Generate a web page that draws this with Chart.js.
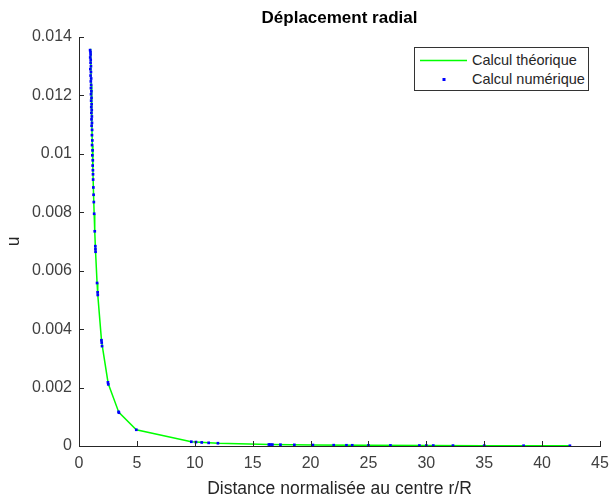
<!DOCTYPE html>
<html>
<head>
<meta charset="utf-8">
<script src="https://cdn.jsdelivr.net/npm/chart.js@4/dist/chart.umd.min.js"></script>
<style>
  html, body { margin: 0; padding: 0; background: #ffffff; }
  #wrap { position: relative; width: 611px; height: 500px; }
  #legend {
    position: absolute; left: 414px; top: 47px; width: 173px; height: 42px;
    border: 1px solid #333333; background: #ffffff;
    font-family: "Liberation Sans", Arial, sans-serif; font-size: 14.5px; color: #262626;
  }
  .row { position: absolute; left: 0; width: 172px; height: 18px; line-height: 18px; }
  .txt { position: absolute; left: 57px; top: 0; white-space: nowrap; }
</style>
</head>
<body>
<div id="wrap">
  <canvas id="c" width="611" height="500"></canvas>
  <div id="legend">
    <div class="row" style="top:3px;">
      <svg style="position:absolute; left:0; top:0;" width="56" height="18">
        <line x1="5" y1="9.5" x2="52" y2="9.5" stroke="#00ff00" stroke-width="1.5"/>
      </svg>
      <span class="txt">Calcul théorique</span>
    </div>
    <div class="row" style="top:22px;">
      <svg style="position:absolute; left:0; top:0;" width="56" height="18">
        <rect x="27.5" y="8" width="3" height="3" fill="#0000ff"/>
      </svg>
      <span class="txt">Calcul numérique</span>
    </div>
  </div>
</div>
<script>
// ---- data ----
const chartTitle = "Déplacement radial";
const xLabel = "Distance normalisée au centre r/R";
const yLabel = "u";
const xTicks = [0, 5, 10, 15, 20, 25, 30, 35, 40, 45];
const yTicks = [0, 0.002, 0.004, 0.006, 0.008, 0.010, 0.012, 0.014];

// theoretical curve (green line)
const rTheo = [1.00, 1.05, 1.10, 1.15, 1.20, 1.25, 1.31, 1.36, 1.42, 1.56, 1.62, 1.95, 2.52, 3.44, 4.95, 9.7, 12.0, 16.5, 20.2, 25.0, 30.0, 35.0, 42.4];
const uTheo = [0.01360, 0.01234, 0.01124, 0.01028, 0.00944, 0.00870, 0.00793, 0.00735, 0.00674, 0.00559, 0.00518, 0.00358, 0.00214, 0.00115, 0.000555, 0.000145, 0.0000944, 0.0000500, 0.0000333, 0.0000218, 0.0000151, 0.0000111, 0.0000076];

// numerical results (blue dots)
const rNum = [0.96, 0.99, 1.00, 0.97, 1.01, 1.00, 1.03, 0.98, 1.03, 1.00, 1.05, 1.02, 1.05, 1.03, 1.07, 1.04, 1.08, 1.05, 1.09, 1.06, 1.10, 1.07, 1.11, 1.08, 1.12, 1.09, 1.13, 1.12, 1.15, 1.13, 1.17, 1.15, 1.19, 1.18, 1.20, 1.21, 1.22, 1.24, 1.26, 1.28, 1.31, 1.36, 1.41, 1.42, 1.43, 1.56, 1.61, 1.62, 1.94, 1.96, 1.99, 2.50, 2.53, 3.42, 3.45, 4.95, 9.7, 10.1, 10.6, 11.2, 12.0, 16.4, 16.5, 16.7, 17.4, 18.6, 20.2, 22.0, 23.1, 23.6, 25.0, 26.9, 29.4, 30.0, 30.6, 32.3, 35.0, 38.4, 42.4];
const uNum = [0.01355, 0.01348, 0.01340, 0.01330, 0.01322, 0.01312, 0.01300, 0.01290, 0.01280, 0.01268, 0.01258, 0.01248, 0.01236, 0.01225, 0.01214, 0.01204, 0.01192, 0.01182, 0.01170, 0.01160, 0.01150, 0.01140, 0.01128, 0.01118, 0.01106, 0.01096, 0.01082, 0.01064, 0.01046, 0.01030, 0.01012, 0.00995, 0.00978, 0.00960, 0.00944, 0.00930, 0.00912, 0.00885, 0.00860, 0.00835, 0.00795, 0.00735, 0.00684, 0.00674, 0.00665, 0.00558, 0.00526, 0.00517, 0.00362, 0.00354, 0.00342, 0.00218, 0.00211, 0.00117, 0.00114, 0.000556, 0.000146, 0.000134, 0.000122, 0.000108, 0.0000950, 0.0000505, 0.0000500, 0.0000488, 0.0000450, 0.0000392, 0.0000333, 0.0000280, 0.0000256, 0.0000244, 0.0000218, 0.0000188, 0.0000157, 0.0000151, 0.0000145, 0.0000130, 0.0000111, 0.0000092, 0.0000076];

const FONT = '"Liberation Sans", Arial, Helvetica, sans-serif';
const AXIS_COLOR = '#262626';

const theoPts = rTheo.map((r, i) => ({ x: r, y: uTheo[i] }));
const numPts = rNum.map((r, i) => ({ x: r, y: uNum[i] }));

const innerTicks = {
  id: 'innerTicks',
  afterDatasetsDraw(chart) {
    const ctx = chart.ctx;
    const xs = chart.scales.x, ys = chart.scales.y;
    const a = chart.chartArea;
    ctx.save();
    ctx.strokeStyle = AXIS_COLOR;
    ctx.lineWidth = 1;
    ctx.beginPath();
    xs.ticks.forEach(t => {
      const px = Math.round(xs.getPixelForValue(t.value)) + 0.5;
      ctx.moveTo(px, a.bottom);
      ctx.lineTo(px, a.bottom - 5);
    });
    ys.ticks.forEach(t => {
      const py = Math.round(ys.getPixelForValue(t.value)) + 0.5;
      ctx.moveTo(a.left, py);
      ctx.lineTo(a.left + 5, py);
    });
    ctx.stroke();
    ctx.restore();
  }
};

new Chart(document.getElementById('c'), {
  type: 'scatter',
  data: {
    datasets: [
      {
        label: 'Calcul numérique',
        data: numPts,
        showLine: false,
        pointStyle: 'rect',
        pointRadius: 1.9,
        pointBorderWidth: 0,
        backgroundColor: '#0000ff',
        borderColor: '#0000ff',
        order: 0
      },
      {
        label: 'Calcul théorique',
        data: theoPts,
        showLine: true,
        pointRadius: 0,
        borderColor: '#00ff00',
        borderWidth: 1.5,
        backgroundColor: '#00ff00',
        tension: 0,
        order: 1
      }
    ]
  },
  options: {
    responsive: false,
    animation: false,
    devicePixelRatio: 1,
    layout: { padding: { left: 0, right: 11, top: 0, bottom: 0 } },
    plugins: {
      legend: { display: false },
      tooltip: { enabled: false },
      title: {
        display: true,
        text: chartTitle,
        fullSize: false,
        color: '#000000',
        font: { family: FONT, size: 17, weight: 'bold', lineHeight: 1.2 },
        padding: { top: 8, bottom: 8.6 }
      }
    },
    scales: {
      x: {
        type: 'linear',
        min: 0, max: 45,
        afterBuildTicks: s => { s.ticks = xTicks.map(v => ({ value: v })); },
        afterFit: s => { s.height = 54; s.paddingLeft = 0; s.paddingRight = 0; },
        grid: { display: true, drawOnChartArea: false, drawTicks: false },
        border: { display: true, color: AXIS_COLOR, width: 1 },
        ticks: {
          color: '#404040', padding: 8, maxRotation: 0, autoSkip: false,
          font: { family: FONT, size: 16 },
          callback: v => String(v)
        },
        title: {
          display: true, text: xLabel, color: '#262626',
          font: { family: FONT, size: 17.5 },
          padding: { top: 0, bottom: 0 }
        }
      },
      y: {
        type: 'linear',
        min: 0, max: 0.014,
        afterBuildTicks: s => { s.ticks = yTicks.map(v => ({ value: v })); },
        afterFit: s => { s.width = 79; s.paddingTop = 0; s.paddingBottom = 0; },
        grid: { display: true, drawOnChartArea: false, drawTicks: false },
        border: { display: true, color: AXIS_COLOR, width: 1 },
        ticks: {
          color: '#404040', padding: 7, autoSkip: false,
          font: { family: FONT, size: 16 },
          callback: v => String(parseFloat(Number(v).toFixed(3)))
        },
        title: {
          display: true, text: yLabel, color: '#262626',
          font: { family: FONT, size: 17.5 },
          padding: { top: 4, bottom: 0 }
        }
      }
    }
  },
  plugins: [innerTicks]
});
</script>
</body>
</html>
